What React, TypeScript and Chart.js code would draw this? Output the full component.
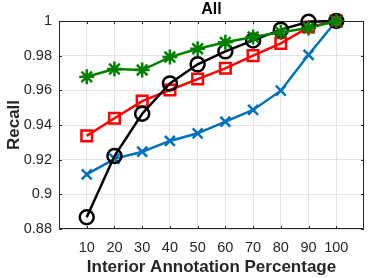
import React, { useEffect, useRef } from "react";
import { Chart, registerables } from "chart.js";

Chart.register(...registerables);

const percentages = [10, 20, 30, 40, 50, 60, 70, 80, 90, 100];
const blueSeries = [0.9115, 0.9205, 0.9246, 0.9308, 0.9352, 0.9419, 0.9487, 0.9598, 0.9805, 1.0];
const redSeries = [0.9337, 0.9439, 0.9538, 0.9602, 0.9665, 0.9727, 0.9800, 0.9871, 0.9965, 1.0];
const blackSeries = [0.8868, 0.9221, 0.9465, 0.9640, 0.9750, 0.9825, 0.9888, 0.9950, 0.9995, 1.0];
const greenSeries = [0.9678, 0.9723, 0.9717, 0.9792, 0.9840, 0.9877, 0.9908, 0.9935, 0.9960, 1.0];
const yTicks = [0.88, 0.9, 0.92, 0.94, 0.96, 0.98, 1];
const titleText = "All";
const xTitle = "Interior Annotation Percentage";
const yTitle = "Recall";

const FONT = "'Liberation Sans', Arial, Helvetica, sans-serif";
const AXIS_COLOR = "#262626";

const boxPlugin = {
  id: "matlabBox",
  beforeDatasetsDraw(chart: any) {
    const { ctx, chartArea } = chart;
    const { left, right, top, bottom } = chartArea;
    const xs = chart.scales.x;
    const ys = chart.scales.y;
    ctx.save();
    ctx.strokeStyle = AXIS_COLOR;
    ctx.lineWidth = 1;
    ctx.beginPath();
    ctx.rect(left + 0.5, top + 0.5, right - left - 1, bottom - top - 1);
    ctx.stroke();
    const tl = 3;
    ctx.beginPath();
    percentages.forEach((p) => {
      const x = Math.round(xs.getPixelForValue(p)) + 0.5;
      ctx.moveTo(x, bottom);
      ctx.lineTo(x, bottom - tl);
      ctx.moveTo(x, top);
      ctx.lineTo(x, top + tl);
    });
    yTicks.forEach((v) => {
      const y = Math.round(ys.getPixelForValue(v)) + 0.5;
      ctx.moveTo(left, y);
      ctx.lineTo(left + tl, y);
      ctx.moveTo(right, y);
      ctx.lineTo(right - tl, y);
    });
    ctx.stroke();
    ctx.fillStyle = "#000";
    ctx.font = `bold 16px ${FONT}`;
    ctx.textAlign = "center";
    ctx.textBaseline = "middle";
    ctx.fillText(titleText, (left + right) / 2, 10);
    ctx.restore();
  },
};

export default function App() {
  const ref = useRef<HTMLCanvasElement>(null);
  useEffect(() => {
    document.body.style.margin = "0";
    const mk = (label: string, data: number[], color: string, style: any, radius: number, order: number) => ({
      label,
      data: percentages.map((p, i) => ({ x: p, y: data[i] })),
      borderColor: color,
      backgroundColor: "rgba(0,0,0,0)",
      pointBorderColor: color,
      pointBackgroundColor: "rgba(0,0,0,0)",
      borderWidth: 2.5,
      pointBorderWidth: 2.5,
      pointStyle: style,
      pointRadius: radius,
      tension: 0,
      clip: false,
      order,
    });
    const chart = new Chart(ref.current!, {
      type: "line",
      data: {
        datasets: [
          mk("Green", greenSeries, "#008000", "star", 7.5, 0),
          mk("Black", blackSeries, "#000000", "circle", 7, 1),
          mk("Red", redSeries, "#ff0000", "rect", 7.5, 2),
          mk("Blue", blueSeries, "#0072bd", "crossRot", 7, 3),
        ],
      },
      options: {
        animation: false,
        responsive: false,
        layout: { padding: { top: 21, right: 6, left: 0, bottom: 0 } },
        plugins: { legend: { display: false }, tooltip: { enabled: false }, title: { display: false } },
        scales: {
          x: {
            type: "linear",
            min: 0,
            max: 110,
            afterBuildTicks: (s: any) => {
              s.ticks = percentages.map((v) => ({ value: v }));
            },
            afterFit: (s: any) => {
              s.height = 49;
            },
            grid: { color: "#e3e3e3", drawTicks: false, lineWidth: 1 },
            border: { display: false },
            ticks: { color: AXIS_COLOR, font: { family: FONT, size: 14.5 }, padding: 10, maxRotation: 0, autoSkip: false },
            title: { display: true, text: xTitle, color: "#262626", font: { family: FONT, size: 17, weight: "bold" }, padding: { top: 1, bottom: 0 } },
          },
          y: {
            type: "linear",
            min: 0.88,
            max: 1,
            afterBuildTicks: (s: any) => {
              s.ticks = yTicks.map((v) => ({ value: v }));
            },
            afterFit: (s: any) => {
              s.width = 59;
            },
            grid: { color: "#e3e3e3", drawTicks: false, lineWidth: 1 },
            border: { display: false },
            ticks: { color: AXIS_COLOR, font: { family: FONT, size: 14.5 }, padding: 7, callback: (v: any) => String(Number(v)) },
            title: { display: true, text: yTitle, color: "#262626", font: { family: FONT, size: 17, weight: "bold" }, padding: { top: 4, bottom: 0 } },
          },
        },
      },
      plugins: [boxPlugin],
    } as any);
    return () => chart.destroy();
  }, []);
  return (
    <div style={{ position: "absolute", left: 0, top: 0, width: 374, height: 278, background: "#fff" }}>
      <canvas ref={ref} width={374} height={278} style={{ display: "block", width: 374, height: 278 }} />
    </div>
  );
}
